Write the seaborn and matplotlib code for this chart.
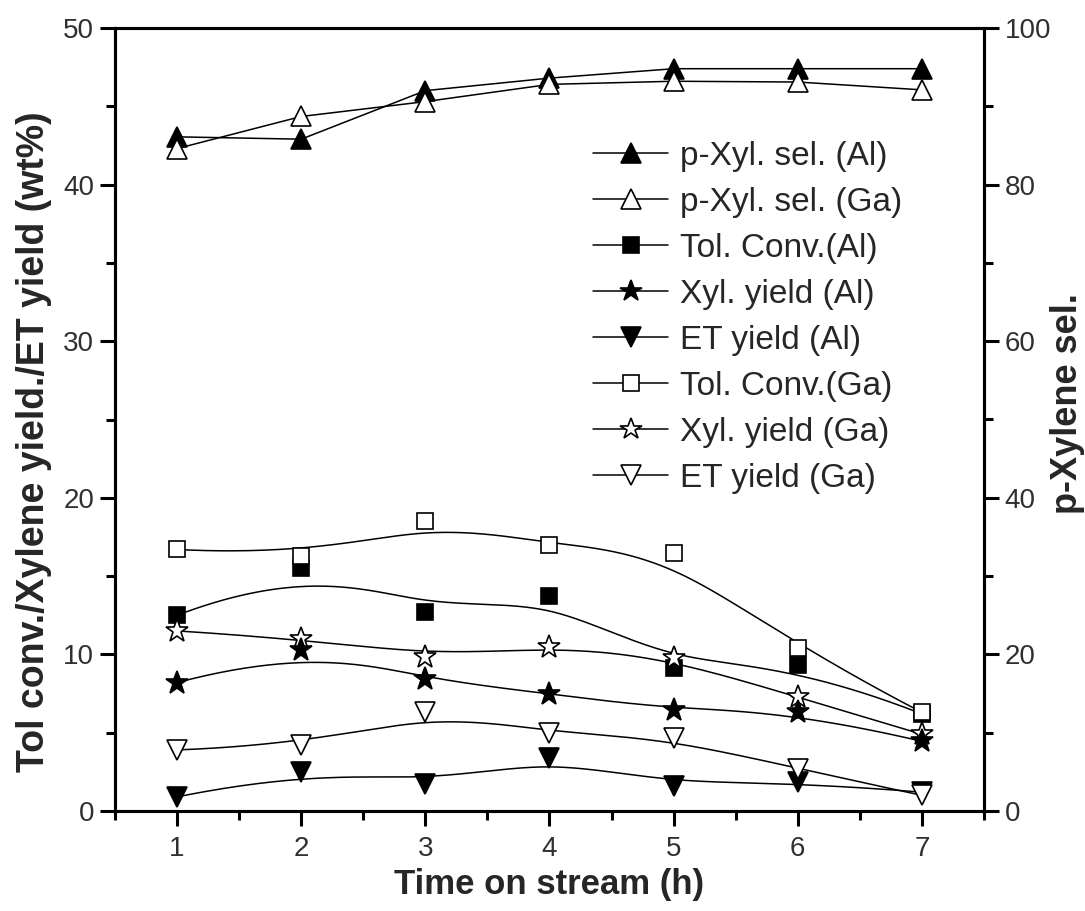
import numpy as np
import pandas as pd
import matplotlib
matplotlib.use("Agg")
import matplotlib.pyplot as plt
import seaborn as sns
from matplotlib.lines import Line2D
from matplotlib.ticker import MultipleLocator

# ---- data -------------------------------------------------------------
time_h = [1, 2, 3, 4, 5, 6, 7]

# p-xylene selectivity (right axis, %)
pxyl_sel_al = [86.1, 85.8, 92.0, 93.6, 94.8, 94.8, 94.8]
pxyl_sel_ga = [84.6, 88.7, 90.6, 92.8, 93.2, 93.1, 92.1]

# conversion / yields (left axis, wt%)
tol_conv_al = [12.5, 15.5, 12.7, 13.7, 9.1, 9.3, 6.2]
xyl_yield_al = [8.2, 10.3, 8.4, 7.5, 6.45, 6.3, 4.45]
et_yield_al = [0.9, 2.5, 1.7, 3.4, 1.6, 1.85, 1.2]
tol_conv_ga = [16.7, 16.3, 18.5, 17.0, 16.45, 10.4, 6.3]
xyl_yield_ga = [11.5, 11.0, 9.85, 10.5, 9.8, 7.25, 4.9]
et_yield_ga = [3.9, 4.2, 6.35, 5.0, 4.65, 2.7, 1.0]

legend_labels = [
    "p-Xyl. sel. (Al)", "p-Xyl. sel. (Ga)", "Tol. Conv.(Al)", "Xyl. yield (Al)",
    "ET yield (Al)", "Tol. Conv.(Ga)", "Xyl. yield (Ga)", "ET yield (Ga)",
]
x_ticks = [1, 2, 3, 4, 5, 6, 7]
left_ticks = [0, 10, 20, 30, 40, 50]
right_ticks = [0, 20, 40, 60, 80, 100]


def bspline(xs, ys, n=300, k=3):
    """Clamped uniform B-spline using the data points as control points."""
    P = np.column_stack([xs, ys]).astype(float)
    m = len(P)
    knots = np.concatenate([np.zeros(k), np.arange(m - k + 1), np.full(k, m - k)]).astype(float)
    t = np.linspace(0, m - k, n)
    t[-1] -= 1e-9

    def N(i, p, tt):
        if p == 0:
            return ((knots[i] <= tt) & (tt < knots[i + 1])).astype(float)
        out = np.zeros_like(tt)
        d1 = knots[i + p] - knots[i]
        d2 = knots[i + p + 1] - knots[i + 1]
        if d1 > 0:
            out += (tt - knots[i]) / d1 * N(i, p - 1, tt)
        if d2 > 0:
            out += (knots[i + p + 1] - tt) / d2 * N(i + 1, p - 1, tt)
        return out

    B = np.array([N(i, k, t) for i in range(m)])
    curve = B.T @ P
    return curve[:, 0], curve[:, 1]


sns.set_theme(style="ticks")
plt.rcParams["font.family"] = ["Liberation Sans", "DejaVu Sans"]

fig = plt.figure(figsize=(10.85, 9.11), dpi=100)
ax = fig.add_axes([115 / 1085, 100 / 911, 869 / 1085, 783 / 911])
ax2 = ax.twinx()

LW = 1.1
styles = {
    "tri_up_f": dict(marker="^", mfc="black", ms=15),
    "tri_up_o": dict(marker="^", mfc="white", ms=15),
    "sq_f": dict(marker="s", mfc="black", ms=11.5),
    "sq_o": dict(marker="s", mfc="white", ms=11.5),
    "star_f": dict(marker="*", mfc="black", ms=17),
    "star_o": dict(marker="*", mfc="white", ms=17),
    "tri_dn_f": dict(marker="v", mfc="black", ms=15),
    "tri_dn_o": dict(marker="v", mfc="white", ms=15),
}

# left-axis series, smoothed with a B-spline (drawing order matters for overlaps)
left_series = [
    (tol_conv_al, "sq_f"),
    (tol_conv_ga, "sq_o"),
    (xyl_yield_ga, "star_o"),
    (xyl_yield_al, "star_f"),
    (et_yield_al, "tri_dn_f"),
    (et_yield_ga, "tri_dn_o"),
]
for vals, key in left_series:
    cx, cy = bspline(time_h, vals)
    sns.lineplot(x=cx, y=cy, sort=False, color="black", lw=LW, ax=ax, zorder=2)
for vals, key in left_series:
    st = styles[key]
    ax.plot(time_h, vals, ls="none", marker=st["marker"], ms=st["ms"],
            mfc=st["mfc"], mec="black", mew=1.2, zorder=3)

# right-axis series, straight segments
for vals, key in [(pxyl_sel_al, "tri_up_f"), (pxyl_sel_ga, "tri_up_o")]:
    st = styles[key]
    df = pd.DataFrame({"t": time_h, "v": vals})
    sns.lineplot(data=df, x="t", y="v", color="black", lw=LW, ax=ax2, zorder=2)
    ax2.plot(time_h, vals, ls="none", marker=st["marker"], ms=st["ms"],
             mfc=st["mfc"], mec="black", mew=1.2, zorder=3)

# axes limits and ticks
ax.set_xlim(0.5, 7.5)
ax.set_ylim(0, 50)
ax2.set_ylim(0, 100)
ax.set_xticks(x_ticks)
ax.set_xticklabels([str(v) for v in x_ticks])
ax.xaxis.set_minor_locator(MultipleLocator(0.5))
ax.set_yticks(left_ticks)
ax.set_yticklabels([str(v) for v in left_ticks])
ax.yaxis.set_minor_locator(MultipleLocator(5))
ax2.set_yticks(right_ticks)
ax2.set_yticklabels([str(v) for v in right_ticks])
ax2.yaxis.set_minor_locator(MultipleLocator(10))

for a in (ax, ax2):
    for sp in a.spines.values():
        sp.set_linewidth(2.2)
        sp.set_color("black")
    a.tick_params(which="major", length=11, width=2.2, color="black",
                  labelsize=20, labelcolor="#303030")
    a.tick_params(which="minor", length=6.5, width=2.2, color="black")
    a.grid(False)
ax.tick_params(axis="x", which="both", direction="out", pad=7, top=False)
ax.tick_params(axis="y", which="both", direction="out", pad=4, right=False)
ax2.tick_params(axis="y", which="both", direction="out", pad=4)

ax.set_xlabel("Time on stream (h)", fontsize=25, fontweight="bold", labelpad=4)
ax.set_ylabel("Tol conv./Xylene yield./ET yield (wt%)", fontsize=27, fontweight="bold")
ax.yaxis.set_label_coords(-0.072, 0.472)
ax2.set_ylabel("p-Xylene sel.", fontsize=26, fontweight="bold")
ax2.yaxis.set_label_coords(1.076, 0.52)

# legend
order = ["tri_up_f", "tri_up_o", "sq_f", "star_f", "tri_dn_f", "sq_o", "star_o", "tri_dn_o"]
handles = []
for key in order:
    st = styles[key]
    handles.append(Line2D([], [], color="black", lw=LW, marker=st["marker"],
                          ms=st["ms"] * 0.95, mfc=st["mfc"], mec="black", mew=1.2))
ax2.legend(handles, legend_labels, loc="upper left", frameon=False,
           bbox_to_anchor=(593 / 1085, 1 - 141 / 911), bbox_transform=fig.transFigure,
           borderpad=0, borderaxespad=0, fontsize=24, handlelength=2.25,
           handletextpad=0.36, labelspacing=0.45, numpoints=1)

fig.savefig("out.png", dpi=100)
